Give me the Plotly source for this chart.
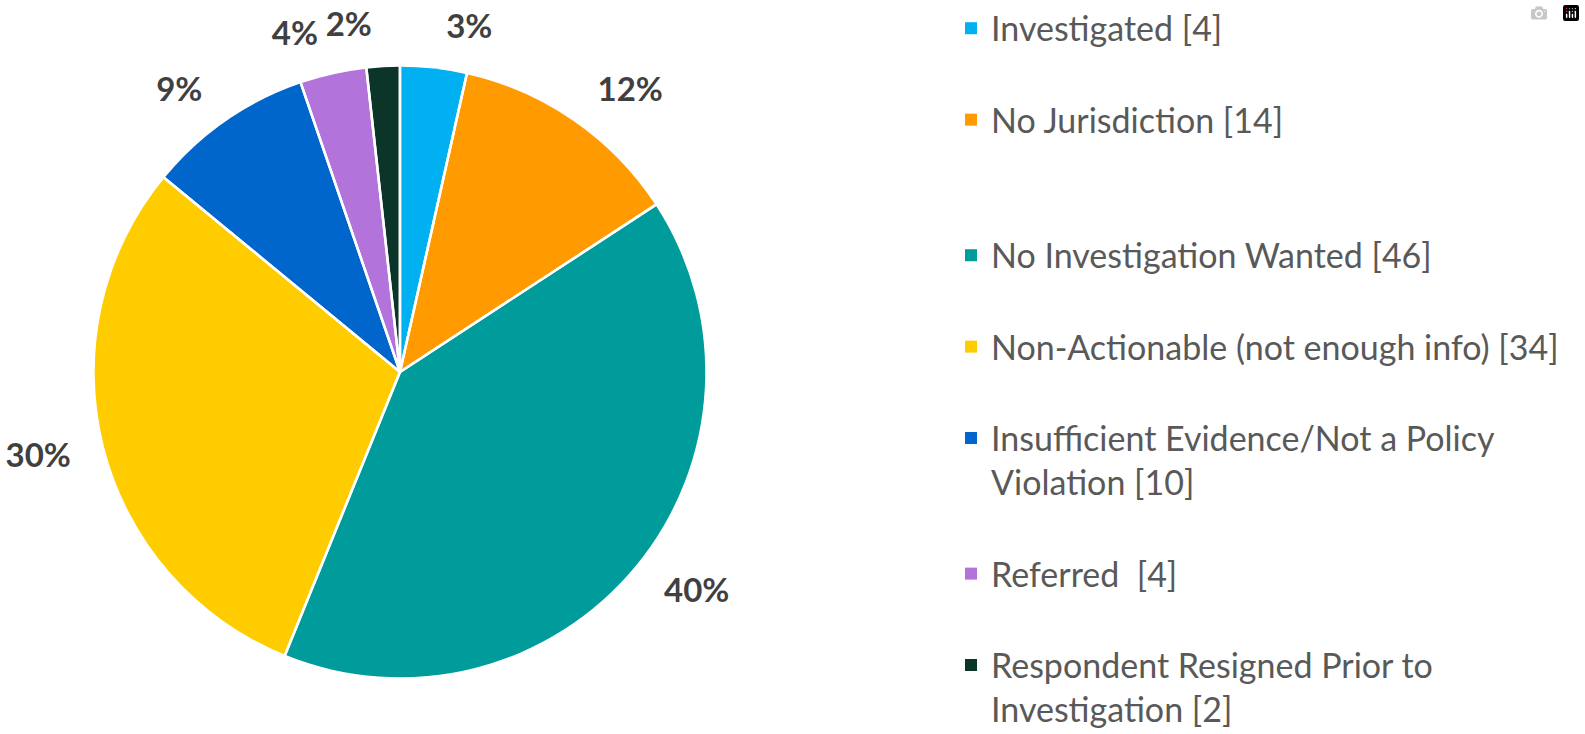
import plotly.graph_objects as go

# outcome categories and case counts
outcomes = [
    'Investigated [4]',
    'No Jurisdiction [14]',
    'No Investigation Wanted [46]',
    'Non-Actionable (not enough info) [34]',
    'Insufficient Evidence/Not a Policy<br>Violation [10]',
    'Referred  [4]',
    'Respondent Resigned Prior to<br>Investigation [2]',
]
counts = [4, 14, 46, 34, 10, 4, 2]
pct_labels = ['3%', '12%', '40%', '30%', '9%', '4%', '2%']
colors = ['#00B0F0', '#FF9B00', '#009B9B', '#FFCC00', '#0066CC', '#B273DA', '#0B3528']

# blank lines appended to each legend entry (plotly has no item gap setting)
legend_pad = [1, 2, 1, 1, 1, 1, 0]
legend_names = [name + '<br> ' * pad for name, pad in zip(outcomes, legend_pad)]

# labels split over two invisible pies so plotly doesn't push the small
# top labels apart and draw leader lines
label_group = [0, 0, 0, 0, 0, 0, 1]

pie_domain = dict(x=[0.0587, 0.446], y=[0.0777, 0.914])
label_domain = dict(x=[0.0435, 0.4612], y=[0.0450, 0.9469])
label_font = dict(family='Lato', size=33, color='#404040', weight='bold')

fig = go.Figure()

# coloured pie, no border so the legend squares stay solid
fig.add_trace(go.Pie(
    labels=legend_names,
    values=counts,
    textinfo='none',
    sort=False,
    direction='clockwise',
    rotation=0,
    marker=dict(colors=colors, line=dict(width=0)),
    domain=pie_domain,
    hovertemplate='%{label}: %{value}<extra></extra>',
))

# transparent pies on top: white slice separators + percent labels
for g in [0, 1]:
    fig.add_trace(go.Pie(
        labels=legend_names,
        values=counts,
        text=[t if grp == g else '' for t, grp in zip(pct_labels, label_group)],
        textinfo='text',
        textposition='outside',
        sort=False,
        direction='clockwise',
        rotation=0,
        marker=dict(colors=['rgba(0,0,0,0)'] * len(counts),
                    line=dict(color='white', width=2.5 if g == 0 else 0)),
        outsidetextfont=label_font,
        domain=label_domain,
        showlegend=False,
        hoverinfo='skip',
        automargin=False,
    ))

fig.update_layout(
    width=1585,
    height=734,
    margin=dict(l=0, r=0, t=0, b=0),
    paper_bgcolor='white',
    font=dict(family='Lato', size=34, color='#595959'),
    legend=dict(
        x=0.600, y=1.006, xanchor='left', yanchor='top',
        valign='top',
        maxheight=1000,
        font=dict(family='Lato', size=34, color='#595959'),
        itemclick=False,
    ),
)

fig.write_html("out.html", post_script="document.body.style.margin='0';")
